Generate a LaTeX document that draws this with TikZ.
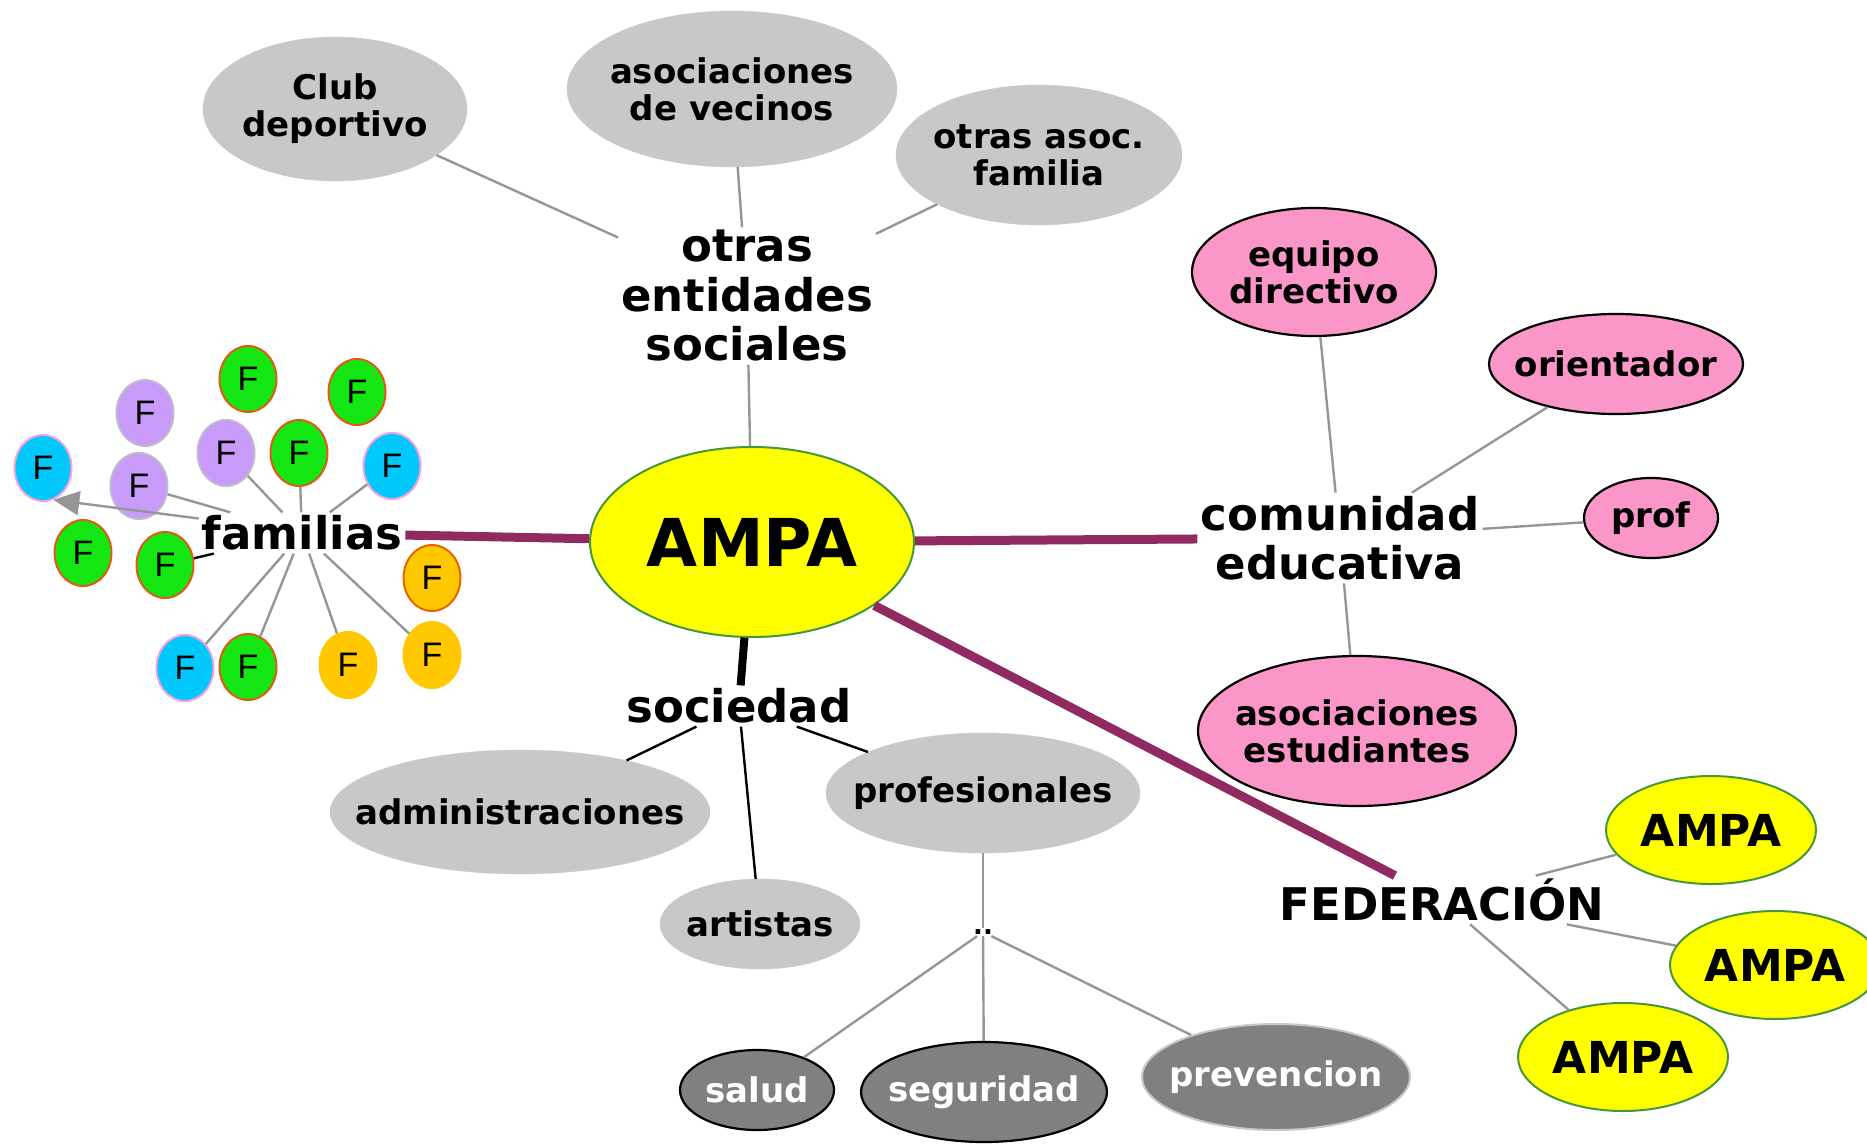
\documentclass[tikz,border=0pt]{standalone}
\usepackage{fontspec}
\setmainfont{DejaVu Sans}
\newfontfamily\ffont{Liberation Sans}
\usetikzlibrary{shapes.geometric,arrows.meta}

\definecolor{lgray}{RGB}{200,200,200}
\definecolor{dgray}{RGB}{128,128,128}
\definecolor{lnk}{RGB}{150,150,150}
\definecolor{plum}{RGB}{145,42,96}
\definecolor{pinkf}{RGB}{250,150,200}
\definecolor{yel}{RGB}{255,255,0}
\definecolor{yborder}{RGB}{70,150,60}
\definecolor{fgreen}{RGB}{20,230,20}
\definecolor{fgreenb}{RGB}{225,90,20}
\definecolor{fpurple}{RGB}{200,155,250}
\definecolor{fpurpleb}{RGB}{190,185,205}
\definecolor{fblue}{RGB}{0,200,250}
\definecolor{fblueb}{RGB}{240,160,220}
\definecolor{fyel}{RGB}{255,200,0}
\definecolor{forange}{RGB}{230,100,0}

\begin{document}
\begin{tikzpicture}[x=1pt,y=-1pt,
  oval/.style 2 args={ellipse, minimum width=#1, minimum height=#2, inner sep=0pt},
  lab/.style={font=\bfseries\fontsize{34}{37}\selectfont, align=center, inner sep=0pt},
  T/.style={label={[lab]center:{#1}}},
  TW/.style={label={[lab,text=white]center:{#1}}},
  grey/.style={fill=lgray, draw=lgray},
  pinkn/.style={fill=pinkf, draw=black, line width=2.2pt},
  dark/.style={fill=dgray, draw=black, line width=2.2pt},
  yeln/.style={fill=yel, draw=yborder, line width=2pt},
  big/.style={font=\bfseries\fontsize{45}{49.5}\selectfont, align=center, inner sep=3pt},
  smallampa/.style={yeln, oval={210pt}{108pt}, font=\bfseries\fontsize{44}{44}\selectfont},
  fn/.style 2 args={ellipse, minimum width=57pt, minimum height=66pt, inner sep=0pt,
     fill=#1, draw=#2, line width=2pt, font=\ffont\fontsize{34}{34}\selectfont},
  gl/.style={draw=lnk, line width=2.4pt},
  bl/.style={draw=black, line width=2.4pt},
  pl/.style={draw=plum, line width=9pt},
]
\useasboundingbox (0,0) rectangle (1867,1143);

% ---- top: otras entidades sociales
\node[grey, oval={264pt}{144pt}, T={Club\\deportivo}] (club) at (335,109) {};
\node[grey, oval={330pt}{156pt}, T={asociaciones\\de vecinos}] (vecinos) at (732,89) {};
\node[grey, oval={286pt}{140pt}, T={otras asoc.\\familia}] (asocfam) at (1039,155) {};
\node[big] (otras) at (747,296) {otras\\entidades\\sociales};

% ---- centre
\node[yeln, oval={324pt}{190pt}, font=\bfseries\fontsize{66}{66}\selectfont] (ampa) at (752,542) {AMPA};

% ---- comunidad educativa
\node[big] (com) at (1340,538) {comunidad\\educativa};
\node[pinkn, oval={244pt}{128pt}, T={equipo\\directivo}] (equipo) at (1314,272) {};
\node[pinkn, oval={254pt}{100pt}, T={orientador}] (orient) at (1616,364) {};
\node[pinkn, oval={134pt}{80pt}, T={prof}] (prof) at (1651,518) {};
\node[pinkn, oval={318pt}{150pt}, T={asociaciones\\estudiantes}] (estud) at (1357,731) {};

% ---- federacion
\node[big] (fed) at (1442,900) {FEDERACIÓN};
\node[smallampa] (a1) at (1711,830) {AMPA};
\node[smallampa] (a2) at (1775,965) {AMPA};
\node[smallampa] (a3) at (1623,1057) {AMPA};

% ---- sociedad
\node[big] (soc) at (739,706) {sociedad};
\node[grey, oval={380pt}{124pt}, T={administraciones}] (admin) at (520,812) {};
\node[grey, oval={314pt}{120pt}, T={profesionales}] (profes) at (983,793) {};
\node[grey, oval={200pt}{90pt}, T={artistas}] (art) at (760,924) {};
\node[font=\bfseries\fontsize{26}{26}\selectfont, inner sep=1.5pt] (dots) at (983,932) {..};
\node[dark, oval={154pt}{80pt}, TW={salud}] (salud) at (757,1090) {};
\node[dark, oval={246pt}{100pt}, TW={seguridad}] (segur) at (984,1092) {};
\node[fill=dgray, draw=lgray, line width=2pt, oval={268pt}{106pt}, TW={prevencion}] (prev) at (1276,1077) {};

% ---- familias
\node[big] (fam) at (302,533) {familias};
\node[fn={fpurple}{fpurpleb}] (f1) at (145,413) {F};
\node[fn={fgreen}{fgreenb}] (f2) at (248,379) {F};
\node[fn={fgreen}{fgreenb}] (f3) at (357,392) {F};
\node[fn={fblue}{fblueb}] (f4) at (43,468) {F};
\node[fn={fpurple}{fpurpleb}] (f5) at (226,453) {F};
\node[fn={fgreen}{fgreenb}] (f6) at (299,453) {F};
\node[fn={fblue}{fblueb}] (f7) at (392,466) {F};
\node[fn={fpurple}{fpurpleb}] (f8) at (139,486) {F};
\node[fn={fgreen}{fgreenb}] (f9) at (83,553) {F};
\node[fn={fgreen}{fgreenb}] (f10) at (165,565) {F};
\node[fn={fyel}{forange}] (f11) at (432,578) {F};
\node[fn={fblue}{fblueb}] (f12) at (185,668) {F};
\node[fn={fgreen}{fgreenb}] (f13) at (248,667) {F};
\node[fn={fyel}{fyel}] (f14) at (348,665) {F};
\node[fn={fyel}{fyel}] (f15) at (432,655) {F};

% ---- connectors
\draw[gl] (club) -- (otras);
\draw[gl] (vecinos) -- (otras);
\draw[gl] (asocfam) -- (otras);
\draw[gl] (otras) -- (ampa);

\draw[pl] (ampa) -- (com);
\draw[pl] (ampa) -- (fam);
\draw[pl] (ampa) -- (fed);
\draw[draw=black, line width=8pt] (ampa) -- (soc);

\draw[gl] (com) -- (equipo);
\draw[gl] (com) -- (orient);
\draw[gl] (com) -- (prof);
\draw[gl] (com) -- (estud);

\draw[gl] (fed) -- (a1);
\draw[gl] (fed) -- (a2);
\draw[gl] (fed) -- (a3);

\draw[bl] (soc) -- (admin);
\draw[bl] (soc) -- (art);
\draw[bl] (soc) -- (profes);
\draw[gl] (profes) -- (dots);
\draw[gl] (dots) -- (salud);
\draw[gl] (dots) -- (segur);
\draw[gl] (dots) -- (prev);

\draw[gl] (fam) -- (f8);
\draw[gl] (fam) -- (f5);
\draw[gl] (fam) -- (f6);
\draw[gl] (fam) -- (f7);
\draw[bl] (fam) -- (f10);
\draw[gl] (fam) -- (f12);
\draw[gl] (fam) -- (f13);
\draw[gl] (fam) -- (f14);
\draw[gl] (fam) -- (f15);
\draw[gl, -{Triangle[length=26pt,width=24pt]}, lnk] (fam.172) -- (f4.-72);
\end{tikzpicture}
\end{document}
